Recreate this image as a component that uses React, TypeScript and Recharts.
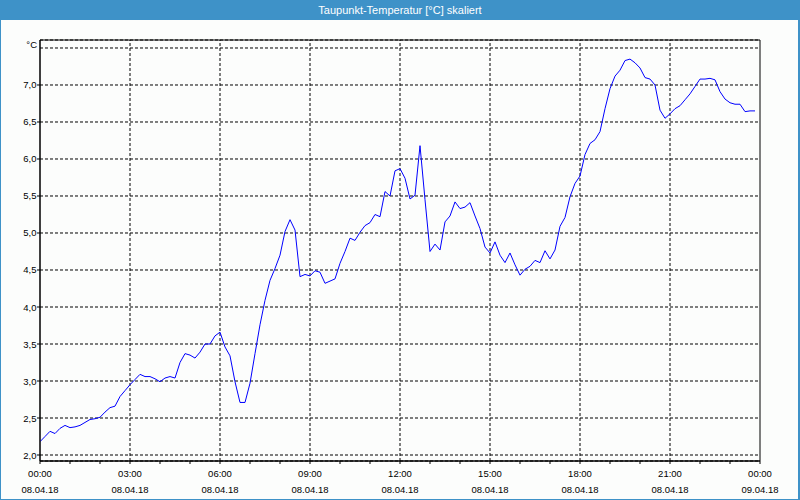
import React from "react";
import { LineChart, Line, XAxis, YAxis, CartesianGrid, ReferenceLine, ReferenceArea } from "recharts";

const TITLE = "Taupunkt-Temperatur [°C] skaliert";
const UNIT = "°C";

// Sample times: every 10 minutes from 00:00 (08.04.18) to 23:50
const STEP_MINUTES = 10;

// Dew point values (°C)
const dewPoint = [
  2.18, 2.25, 2.32, 2.29, 2.36, 2.40, 2.37, 2.38, 2.40, 2.44,
  2.48, 2.49, 2.51, 2.58, 2.64, 2.66, 2.79, 2.87, 2.95, 3.02,
  3.09, 3.06, 3.06, 3.03, 2.99, 3.04, 3.06, 3.04, 3.25, 3.37,
  3.35, 3.31, 3.39, 3.50, 3.50, 3.61, 3.66, 3.46, 3.34, 2.99,
  2.71, 2.71, 2.97, 3.37, 3.76, 4.09, 4.36, 4.52, 4.70, 5.02,
  5.18, 5.04, 4.41, 4.44, 4.42, 4.49, 4.47, 4.32, 4.35, 4.38,
  4.59, 4.75, 4.93, 4.90, 5.01, 5.10, 5.14, 5.25, 5.22, 5.56,
  5.50, 5.84, 5.87, 5.74, 5.46, 5.51, 6.18, 5.45, 4.75, 4.85,
  4.77, 5.15, 5.23, 5.42, 5.33, 5.35, 5.41, 5.23, 5.06, 4.81,
  4.73, 4.88, 4.70, 4.60, 4.73, 4.57, 4.43, 4.51, 4.55, 4.63,
  4.60, 4.76, 4.65, 4.77, 5.09, 5.21, 5.49, 5.67, 5.77, 6.06,
  6.21, 6.26, 6.37, 6.68, 6.95, 7.12, 7.20, 7.33, 7.35, 7.30,
  7.23, 7.10, 7.08, 7.00, 6.66, 6.55, 6.61, 6.68, 6.72, 6.80,
  6.88, 6.98, 7.08, 7.08, 7.09, 7.07, 6.91, 6.81, 6.76, 6.74,
  6.74, 6.64, 6.65, 6.65,
];

// X axis: minor ticks every hour, labelled ticks every 3 hours
const xMinorTicks = [
  0, 60, 120, 180, 240, 300, 360, 420, 480, 540, 600, 660, 720,
  780, 840, 900, 960, 1020, 1080, 1140, 1200, 1260, 1320, 1380, 1440,
];
const xMajorTicks = [0, 180, 360, 540, 720, 900, 1080, 1260, 1440];
const xTickTimes = ["00:00", "03:00", "06:00", "09:00", "12:00", "15:00", "18:00", "21:00", "00:00"];
const xTickDates = ["08.04.18", "08.04.18", "08.04.18", "08.04.18", "08.04.18", "08.04.18", "08.04.18", "08.04.18", "09.04.18"];
const xGridLines = [180, 360, 540, 720, 900, 1080, 1260];

// Y axis
const yTicks = [2.0, 2.5, 3.0, 3.5, 4.0, 4.5, 5.0, 5.5, 6.0, 6.5, 7.0, 7.5];
const yUnitTick = 7.5;
const Y_MIN = 1.919;
const Y_MAX = 7.608;
const X_MIN = 0;
const X_MAX = 1440;

const data = dewPoint.map((v, i) => ({ t: i * STEP_MINUTES, v }));

const FONT = "'Liberation Sans', Arial, sans-serif";
const BLUE = "#3e92c8";

function XTick(props: any) {
  const { x, y, payload } = props;
  const idx = xMajorTicks.indexOf(payload.value);
  if (idx < 0) return <g />;
  return (
    <g>
      <text x={x} y={y + 13} textAnchor="middle" fontSize={9.5} fontFamily={FONT} fill="#000">
        {xTickTimes[idx]}
      </text>
      <text x={x} y={y + 28.5} textAnchor="middle" fontSize={9.5} fontFamily={FONT} fill="#000">
        {xTickDates[idx]}
      </text>
    </g>
  );
}

function YTick(props: any) {
  const { x, y, payload } = props;
  const v = payload.value as number;
  if (v === yUnitTick) {
    return (
      <text x={x} y={y} textAnchor="end" fontSize={9.5} fontFamily={FONT} fill="#000">
        {UNIT}
      </text>
    );
  }
  return (
    <g>
      <line x1={x} x2={x + 3} y1={y} y2={y} stroke="#000" strokeWidth={1} />
      <text x={x - 0.5} y={y} dy={3.5} textAnchor="end" fontSize={9.5} fontFamily={FONT} fill="#000">
        {v.toFixed(1).replace(".", ",")}
      </text>
    </g>
  );
}

export default function App() {
  return (
    <div
      style={{
        position: "absolute",
        left: 0,
        top: 0,
        width: 800,
        height: 500,
        background: "#fcfdfc",
        overflow: "hidden",
      }}
    >
      <div
        style={{
          position: "absolute",
          left: 0,
          top: 0,
          width: 800,
          height: 20,
          background: BLUE,
          color: "#fff",
          fontFamily: FONT,
          fontSize: 11,
          lineHeight: "20px",
          textAlign: "center",
        }}
      >
        {TITLE}
      </div>
      <div style={{ position: "absolute", left: 0, top: 20 }}>
        <LineChart
          width={800}
          height={480}
          data={data}
          margin={{ top: 20, right: 40, left: 0, bottom: 0 }}
        >
          <CartesianGrid vertical={false} stroke="#000" strokeDasharray="3 2" />
          {xGridLines.map((g) => (
            <ReferenceLine key={g} x={g} stroke="#000" strokeDasharray="3 2" />
          ))}
          <XAxis
            dataKey="t"
            type="number"
            domain={[X_MIN, X_MAX]}
            ticks={xMinorTicks}
            interval={0}
            height={39}
            tickSize={3}
            tickMargin={0}
            axisLine={{ stroke: "#000" }}
            tickLine={{ stroke: "#000" }}
            tick={<XTick />}
            allowDataOverflow
          />
          <YAxis
            type="number"
            domain={[Y_MIN, Y_MAX]}
            ticks={yTicks}
            interval={0}
            width={40}
            tickSize={3}
            tickMargin={0}
            axisLine={{ stroke: "#000" }}
            tickLine={false}
            tick={<YTick />}
            allowDataOverflow
          />
          <ReferenceArea x1={X_MIN} x2={X_MAX} y1={Y_MIN} y2={Y_MAX} fill="none" stroke="#000" strokeWidth={1} fillOpacity={0} />
          <Line
            type="linear"
            dataKey="v"
            stroke="#0000ff"
            strokeWidth={1}
            dot={false}
            isAnimationActive={false}
          />
        </LineChart>
      </div>
      <div style={{ position: "absolute", left: 0, top: 20, width: 1, height: 480, background: BLUE }} />
      <div style={{ position: "absolute", left: 798, top: 20, width: 2, height: 480, background: BLUE }} />
      <div style={{ position: "absolute", left: 0, top: 499, width: 800, height: 1, background: BLUE }} />
    </div>
  );
}
